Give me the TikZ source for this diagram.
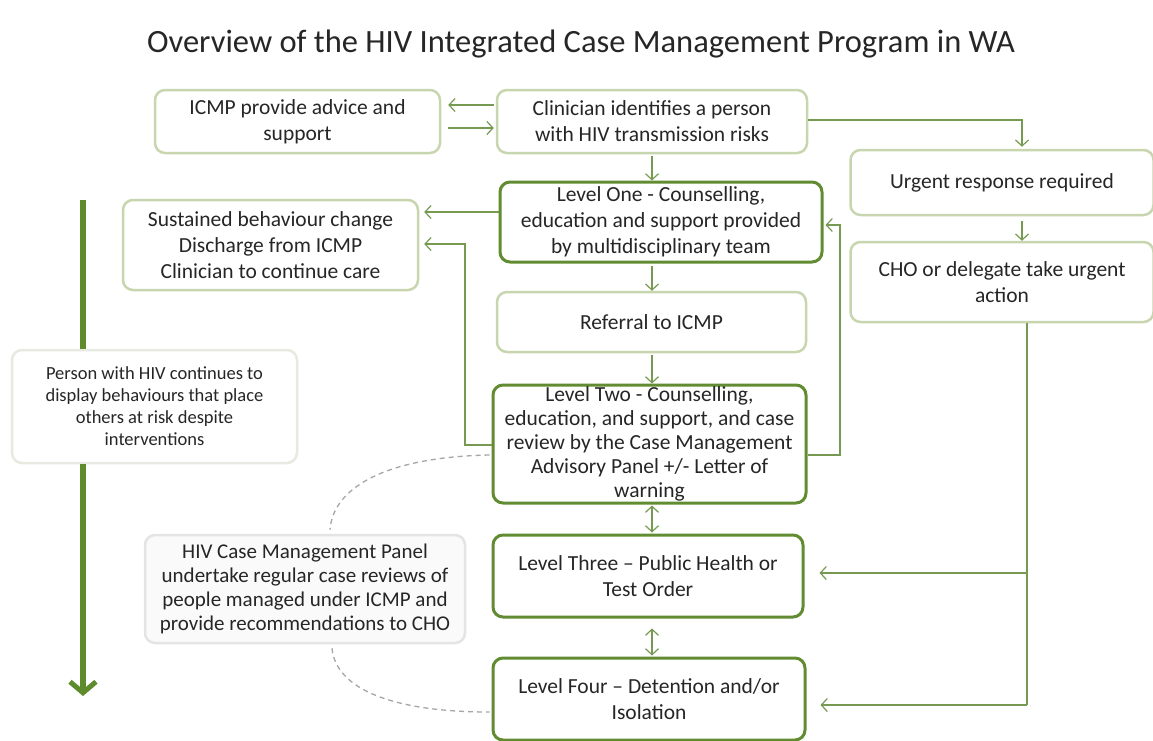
\documentclass[tikz,border=0pt]{standalone}
\usepackage{fontspec}
\setmainfont{Carlito}
\usetikzlibrary{arrows.meta,calc}
\definecolor{darkrim}{RGB}{98,140,50}
\definecolor{lightrim}{RGB}{200,214,176}
\definecolor{arrowgreen}{RGB}{118,154,82}
\definecolor{bigarrow}{RGB}{94,140,45}
\definecolor{softrim}{RGB}{230,234,224}
\definecolor{panelrim}{RGB}{228,228,228}
\definecolor{panelfill}{RGB}{250,250,250}
\definecolor{inkgray}{RGB}{38,38,38}
\tikzset{
  basebox/.style={rectangle, rounded corners=10pt, align=center, inner sep=0pt,
    text=inkgray, font=\fontsize{21.5}{26}\selectfont, fill=white},
  lightbox/.style={basebox, draw=lightrim, line width=2.5pt},
  levelbox/.style={basebox, draw=darkrim, line width=3pt},
  flow/.style={draw=arrowgreen, line width=1.4pt, -{Straight Barb[length=6pt,width=13pt,line width=1.2pt]}},
  twoway/.style={draw=arrowgreen, line width=1.4pt, {Straight Barb[length=6pt,width=13pt,line width=1.2pt]}-{Straight Barb[length=6pt,width=13pt,line width=1.2pt]}},
  plainline/.style={draw=arrowgreen, line width=1.4pt},
  dashlink/.style={draw=gray!70, line width=1.3pt, dashed, dash pattern=on 5pt off 4pt},
}
\begin{document}
\begin{tikzpicture}[x=1pt,y=-1pt]
\clip (0,0) rectangle (1153,740);
\fill[white] (0,0) rectangle (1153,740);

% title
\node[text=inkgray, font=\fontsize{32.5}{36}\selectfont] (title) at (581,44)
  {Overview of the HIV Integrated Case Management Program in WA};

% boxes
\node[lightbox, minimum width=285pt, minimum height=63pt] (icmp) at (297.5,121.5)
  {ICMP provide advice and\\support};
\node[lightbox, minimum width=310pt, minimum height=63pt] (clin) at (652,121.5)
  {Clinician identifies a person\\with HIV transmission risks};
\node[lightbox, minimum width=303pt, minimum height=65pt] (urgent) at (1002,182.5)
  {Urgent response required};
\node[levelbox, minimum width=322pt, minimum height=80pt] (lvl1) at (661,222)
  {Level One - Counselling,\\education and support provided\\by multidisciplinary team};
\node[lightbox, minimum width=295pt, minimum height=90pt] (sust) at (270.5,245)
  {Sustained behaviour change\\Discharge from ICMP\\Clinician to continue care};
\node[lightbox, minimum width=309pt, minimum height=60pt] (referral) at (651.5,322)
  {Referral to ICMP};
\node[basebox, draw=softrim, line width=2.5pt, minimum width=285pt, minimum height=113pt,
  font=\fontsize{18.5}{22}\selectfont] (person) at (154.5,406.5)
  {Person with HIV continues to\\display behaviours that place\\others at risk despite\\interventions};
\node[lightbox, minimum width=303pt, minimum height=80pt] (cho) at (1002,282)
  {CHO or delegate take urgent\\action};
\node[levelbox, minimum width=313pt, minimum height=118pt, font=\fontsize{21.5}{24}\selectfont] (lvl2) at (649.5,444)
  {Level Two - Counselling,\\education, and support, and case\\review by the Case Management\\Advisory Panel +/- Letter of\\warning};
\node[levelbox, minimum width=310pt, minimum height=82pt] (lvl3) at (648,576)
  {Level Three -- Public Health or\\Test Order};
\node[basebox, draw=panelrim, fill=panelfill, line width=2.5pt, minimum width=320pt, minimum height=108pt,
  font=\fontsize{21}{24}\selectfont] (panel) at (305,589)
  {HIV Case Management Panel\\undertake regular case reviews of\\people managed under ICMP and\\provide recommendations to CHO};
\node[levelbox, minimum width=312pt, minimum height=82pt] (lvl4) at (649,699)
  {Level Four -- Detention and/or\\Isolation};

% big progression arrow, broken by the note box
\coordinate (bigtop) at (83,200);
\coordinate (bigend) at (83,696);
\draw[bigarrow, line width=6pt] (bigtop) -- (bigtop |- person.north);
\draw[bigarrow, line width=6pt, -{Straight Barb[length=11pt,width=26pt,line width=5pt]}]
  (bigtop |- person.south) -- (bigend);

% between ICMP and clinician
\draw[flow] ($(clin.west)+(-2,-16.5)$) -- ($(icmp.east)+(7,-16.5)$);
\draw[flow] ($(icmp.east)+(7,6.5)$) -- ($(clin.west)+(-2,6.5)$);

% main column
\draw[flow] ($(clin.south)+(0,2)$) -- (clin.south |- lvl1.north);
\draw[flow] ($(lvl1.south)+(-9,2)$) -- ($(referral.north)+(0.5,0)$);
\draw[flow] ($(referral.south)+(0.5,2)$) -- ($(lvl2.north)+(2.5,0)$);
\draw[twoway] ($(lvl2.south)+(2.5,1)$) -- ($(lvl3.north)+(4,-1)$);
\draw[twoway] ($(lvl3.south)+(4,10)$) -- ($(lvl4.north)+(3,-1)$);

% outcomes to the left
\draw[flow] ($(lvl1.west)+(0,-10)$) -- ($(sust.east)+(5,-33)$);
\coordinate (backleft) at (465,244);
\draw[flow] ($(lvl2.west)+(0,1)$) -| (backleft) -- ($(sust.east)+(5,-1)$);

% escalation back to level one
\coordinate (backright) at (840,225);
\draw[flow] ($(lvl2.east)+(0,11)$) -| (backright) -- ($(lvl1.east)+(2,3)$);

% urgent branch
\coordinate (urgturn) at (1022,120);
\draw[flow] (clin.east |- urgturn) -- (urgturn) -- ($(urgent.north)+(20,-2)$);
\draw[flow] ($(urgent.south)+(20,5)$) -- ($(cho.north)+(20,0)$);
\coordinate (chodown) at (1027,705);
\draw[plainline] ($(cho.south)+(25,0)$) -- (chodown);
\draw[flow] (chodown |- 0,573) -- ($(lvl3.east)+(15,-3)$);
\draw[flow] (chodown) -- ($(lvl4.east)+(14,6)$);

% panel links
\draw[dashlink] ($(lvl2.west)+(-2,11)$) .. controls (385,457) and (333,488) .. ($(panel.north)+(25,-4)$);
\draw[dashlink] ($(panel.south)+(27,4)$) .. controls (336,690) and (395,712) .. ($(lvl4.west)+(-2,13)$);
\end{tikzpicture}
\end{document}
